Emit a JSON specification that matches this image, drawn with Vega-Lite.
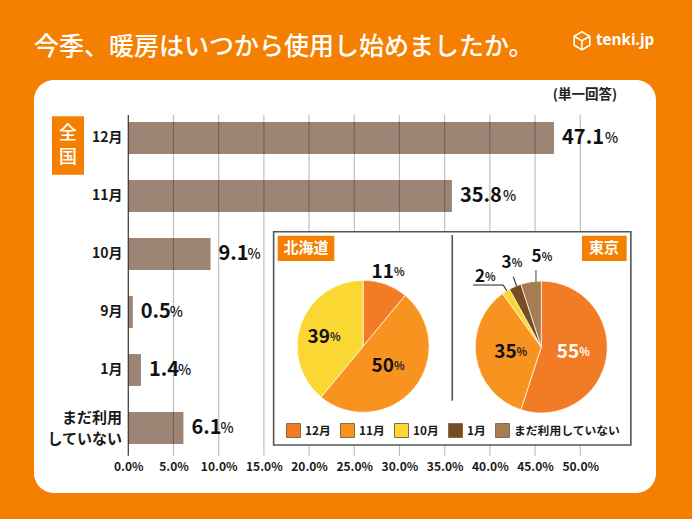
{"$schema":"https://vega.github.io/schema/vega-lite/v6.json","width":622,"height":413,"autosize":"none","padding":{"left":34,"top":80,"right":36,"bottom":26},"background":"#F47F00","view":{"fill":"#ffffff","cornerRadius":20,"stroke":null},
"title":{"text":"今季、暖房はいつから使用し始めましたか。","anchor":"start","frame":"group","font":"Noto Sans CJK JP","fontSize":25,"fontWeight":500,"color":"#ffffff","offset":20,"dy":51},
"datasets":{"answers":[{"answer":"12月","pct":47.1},{"answer":"11月","pct":35.8},{"answer":"10月","pct":9.1},{"answer":"9月","pct":0.5},{"answer":"1月","pct":1.4},{"answer":"まだ利用していない","pct":6.1}],
"pies":[{"area":"北海道","answer":"12月","share":11,"rank":1},{"area":"北海道","answer":"11月","share":50,"rank":2},{"area":"北海道","answer":"10月","share":39,"rank":3},{"area":"東京","answer":"12月","share":55,"rank":1},{"area":"東京","answer":"11月","share":35,"rank":2},{"area":"東京","answer":"10月","share":2,"rank":3},{"area":"東京","answer":"1月","share":3,"rank":4},{"area":"東京","answer":"まだ利用していない","share":5,"rank":5}],
"ticks":[{"t":5},{"t":10},{"t":15},{"t":20},{"t":25},{"t":30},{"t":35},{"t":40},{"t":45},{"t":50}],"one":[{"k":1}]},
"resolve":{"scale":{"y":"independent"},"axis":{"x":"independent"}},
"layer":[
{"data":{"name":"answers"},"mark":{"type":"bar","color":"#9C8574"},"encoding":{
"x":{"field":"pct","type":"quantitative","scale":{"domain":[-10.43,58.38],"nice":false,"zero":false},"axis":{"title":null,"values":[0,5,10,15,20,25,30,35,40,45,50],"grid":false,"domain":false,"ticks":false,"offset":-37,"labelPadding":5,"labelFont":"Noto Sans CJK JP","labelFontSize":12,"labelFontWeight":"bold","labelColor":"#1a1a1a","labelExpr":"format(datum.value,'.1f')+'%'","labelFlush":false,"labelOverlap":false}},
"y":{"field":"answer","type":"nominal","sort":null,"scale":{"domain":["12月","11月","10月","9月","1月","まだ利用していない"],"range":[29,377],"paddingInner":0.45,"paddingOuter":0.225},"axis":{"title":null,"domain":false,"ticks":false,"offset":-94,"labelPadding":6,"labelFont":"Noto Sans CJK JP","labelFontSize":14,"labelFontWeight":"bold","labelColor":"#1a1a1a","labelExpr":"datum.value=='まだ利用していない'?'':datum.value"}}}},
{"layer":[
{"data":{"name":"ticks"},"mark":{"type":"rule","color":"#000000","opacity":0.25,"strokeWidth":1.2},"encoding":{"x":{"field":"t","type":"quantitative","axis":null},"y":{"datum":91.5,"type":"quantitative","axis":null,"scale":{"domain":[0,100],"nice":false,"zero":false}},"y2":{"datum":9.03}}},
{"data":{"name":"one"},"mark":{"type":"rule","color":"#333333","strokeWidth":1.2},"encoding":{"x":{"datum":0,"type":"quantitative","axis":null},"y":{"datum":91.5,"type":"quantitative","axis":null},"y2":{"datum":9.03}}}
]},
{"data":{"name":"answers"},"encoding":{"x":{"field":"pct","type":"quantitative","axis":null},"y":{"field":"answer","type":"nominal","sort":null,"axis":null,"scale":{"domain":["12月","11月","10月","9月","1月","まだ利用していない"],"range":[29,377],"paddingInner":0.45,"paddingOuter":0.225}}},"layer":[
{"mark":{"type":"text","align":"left","baseline":"middle","dx":8,"font":"Noto Sans CJK JP","fontSize":20,"fontWeight":"bold","color":"#111111"},"encoding":{"text":{"field":"pct","type":"quantitative","format":".1f"}}},
{"transform":[{"filter":"datum.pct>=10"}],"mark":{"type":"text","align":"left","baseline":"middle","dx":51,"dy":1,"font":"Noto Sans CJK JP","fontSize":14,"fontWeight":500,"color":"#111111","text":"%"}},
{"transform":[{"filter":"datum.pct<10"}],"mark":{"type":"text","align":"left","baseline":"middle","dx":37,"dy":1,"font":"Noto Sans CJK JP","fontSize":14,"fontWeight":500,"color":"#111111","text":"%"}}
]},
{"layer":[
{"data":{"name":"one"},"mark":{"type":"rect","fill":"#F47F00"},"encoding":{"x":{"datum":-8.44,"type":"quantitative","axis":null},"x2":{"datum":-4.9},"y":{"datum":91.2,"type":"quantitative","axis":null,"scale":{"domain":[0,100],"nice":false,"zero":false}},"y2":{"datum":77.07}}},
{"data":{"values":[{"s":"まだ利用"}]},"mark":{"type":"text","align":"right","baseline":"middle","font":"Noto Sans CJK JP","fontSize":15,"fontWeight":"bold","color":"#1a1a1a"},"encoding":{"x":{"datum":-0.7,"type":"quantitative","axis":null},"y":{"datum":18.16,"type":"quantitative","axis":null},"text":{"field":"s"}}},
{"data":{"values":[{"s":"していない"}]},"mark":{"type":"text","align":"right","baseline":"middle","font":"Noto Sans CJK JP","fontSize":15,"fontWeight":"bold","color":"#1a1a1a"},"encoding":{"x":{"datum":-0.7,"type":"quantitative","axis":null},"y":{"datum":13.08,"type":"quantitative","axis":null},"text":{"field":"s"}}},
{"data":{"values":[{"s":"全"}]},"mark":{"type":"text","align":"center","baseline":"middle","font":"Noto Sans CJK JP","fontSize":18,"fontWeight":500,"color":"#ffffff"},"encoding":{"x":{"datum":-6.67,"type":"quantitative","axis":null},"y":{"datum":86.9,"type":"quantitative","axis":null},"text":{"field":"s"}}},
{"data":{"values":[{"s":"国"}]},"mark":{"type":"text","align":"center","baseline":"middle","font":"Noto Sans CJK JP","fontSize":18,"fontWeight":500,"color":"#ffffff"},"encoding":{"x":{"datum":-6.67,"type":"quantitative","axis":null},"y":{"datum":81.1,"type":"quantitative","axis":null},"text":{"field":"s"}}},
{"data":{"values":[{"s":"(単一回答)"}]},"mark":{"type":"text","align":"center","baseline":"middle","font":"Noto Sans CJK JP","fontSize":13.5,"fontWeight":"bold","color":"#222222"},"encoding":{"x":{"datum":50.52,"type":"quantitative","axis":null},"y":{"datum":96.44,"type":"quantitative","axis":null},"text":{"field":"s"}}},
{"data":{"values":[{"s":"tenki.jp"}]},"mark":{"type":"text","align":"left","baseline":"middle","font":"Open Sans","fontSize":15.2,"fontWeight":"bold","color":"#ffffff"},"encoding":{"x":{"datum":51.74,"type":"quantitative","axis":null},"y":{"datum":109.69,"type":"quantitative","axis":null},"text":{"field":"s"}}},
{"data":{"name":"one"},"mark":{"type":"point","shape":"M0,-1L0.87,-0.5L0.87,0.5L0,1L-0.87,0.5L-0.87,-0.5ZM-0.87,-0.5L0,0L0.87,-0.5M0,0L0,1","filled":false,"stroke":"#ffffff","strokeWidth":1.6,"size":324,"opacity":1},"encoding":{"x":{"datum":50.19,"type":"quantitative","axis":null},"y":{"datum":109.5,"type":"quantitative","axis":null}}},
{"data":{"name":"one"},"mark":{"type":"rect","fill":"#ffffff","stroke":"#555555","strokeWidth":1.6},"encoding":{"x":{"datum":16.08,"type":"quantitative","axis":null},"x2":{"datum":55.6},"y":{"datum":63.27,"type":"quantitative","axis":null},"y2":{"datum":11.62}}},
{"data":{"name":"one"},"mark":{"type":"rule","color":"#555555","strokeWidth":1.6},"encoding":{"x":{"datum":35.84,"type":"quantitative","axis":null},"y":{"datum":62.47,"type":"quantitative","axis":null},"y2":{"datum":22.35}}},
{"data":{"name":"one"},"mark":{"type":"rect","fill":"#F47F00"},"encoding":{"x":{"datum":16.53,"type":"quantitative","axis":null},"x2":{"datum":22.79},"y":{"datum":62.3,"type":"quantitative","axis":null},"y2":{"datum":56.17}}},
{"data":{"name":"one"},"mark":{"type":"rect","fill":"#F47F00"},"encoding":{"x":{"datum":50.19,"type":"quantitative","axis":null},"x2":{"datum":55.13},"y":{"datum":62.3,"type":"quantitative","axis":null},"y2":{"datum":56.17}}},
{"data":{"values":[{"s":"北海道"}]},"mark":{"type":"text","align":"center","baseline":"middle","font":"Noto Sans CJK JP","fontSize":15,"fontWeight":"bold","color":"#ffffff"},"encoding":{"x":{"datum":19.66,"type":"quantitative","axis":null},"y":{"datum":59.32,"type":"quantitative","axis":null},"text":{"field":"s"}}},
{"data":{"values":[{"s":"東京"}]},"mark":{"type":"text","align":"center","baseline":"middle","font":"Noto Sans CJK JP","fontSize":15,"fontWeight":"bold","color":"#ffffff"},"encoding":{"x":{"datum":52.62,"type":"quantitative","axis":null},"y":{"datum":59.32,"type":"quantitative","axis":null},"text":{"field":"s"}}},
{"data":{"name":"pies"},"transform":[{"filter":"datum.area=='北海道'"}],"mark":{"type":"arc","outerRadius":66,"stroke":"#ffffff","strokeWidth":0.7},"encoding":{"x":{"datum":25.98,"type":"quantitative","axis":null},"y":{"datum":35.52,"type":"quantitative","axis":null},"theta":{"field":"share","type":"quantitative","stack":true,"scale":{"domain":[0,100]}},"order":{"field":"rank"},"color":{"field":"answer","type":"nominal","scale":{"domain":["12月","11月","10月","1月","まだ利用していない"],"range":["#F27B25","#F7931E","#FBD734","#754C24","#A67C52"]},"legend":{"title":null,"orient":"none","legendX":252,"legendY":343,"direction":"horizontal","columns":5,"gridAlign":"none","symbolType":"square","symbolSize":196,"symbolStrokeColor":"#8a6a45","symbolStrokeWidth":1,"symbolOpacity":1,"labelFont":"Noto Sans CJK JP","labelFontSize":11.8,"labelFontWeight":"bold","labelColor":"#1a1a1a","labelOffset":4,"columnPadding":7,"labelLimit":200}}}},
{"data":{"name":"pies"},"transform":[{"filter":"datum.area=='東京'"}],"mark":{"type":"arc","outerRadius":66,"stroke":"#ffffff","strokeWidth":0.7},"encoding":{"x":{"datum":45.69,"type":"quantitative","axis":null},"y":{"datum":35.35,"type":"quantitative","axis":null},"theta":{"field":"share","type":"quantitative","stack":true,"scale":{"domain":[0,100]}},"order":{"field":"rank"},"color":{"field":"answer","type":"nominal","scale":{"domain":["12月","11月","10月","1月","まだ利用していない"],"range":["#F27B25","#F7931E","#FBD734","#754C24","#A67C52"]},"legend":{"title":null,"orient":"none","legendX":252,"legendY":343,"direction":"horizontal","columns":5,"gridAlign":"none","symbolType":"square","symbolSize":196,"symbolStrokeColor":"#8a6a45","symbolStrokeWidth":1,"symbolOpacity":1,"labelFont":"Noto Sans CJK JP","labelFontSize":11.8,"labelFontWeight":"bold","labelColor":"#1a1a1a","labelOffset":4,"columnPadding":7,"labelLimit":200}}}},
{"data":{"name":"one"},"mark":{"type":"rule","color":"#333333","strokeWidth":1.1},"encoding":{"x":{"datum":38.16,"type":"quantitative","axis":null},"x2":{"datum":41.48},"y":{"datum":50.36,"type":"quantitative","axis":null},"y2":{"datum":50.36}}},
{"data":{"name":"one"},"mark":{"type":"rule","color":"#333333","strokeWidth":1.1},"encoding":{"x":{"datum":41.48,"type":"quantitative","axis":null},"x2":{"datum":41.86},"y":{"datum":50.36,"type":"quantitative","axis":null},"y2":{"datum":48.98}}},
{"data":{"name":"one"},"mark":{"type":"rule","color":"#333333","strokeWidth":1.1},"encoding":{"x":{"datum":42.59,"type":"quantitative","axis":null},"x2":{"datum":42.96},"y":{"datum":52.37,"type":"quantitative","axis":null},"y2":{"datum":50.12}}},
{"data":{"name":"one"},"mark":{"type":"rule","color":"#555555","strokeWidth":1.1},"encoding":{"x":{"datum":45.1,"type":"quantitative","axis":null},"y":{"datum":54,"type":"quantitative","axis":null},"y2":{"datum":51.16}}},
{"data":{"values":[{"label":"11"}]},"encoding":{"x":{"datum":29.39,"type":"quantitative","axis":null},"y":{"datum":53.58,"type":"quantitative","axis":null}},"layer":[{"mark":{"type":"text","align":"right","baseline":"middle","font":"Noto Sans CJK JP","fontSize":19,"fontWeight":"bold","color":"#111111"},"encoding":{"text":{"field":"label"}}},{"mark":{"type":"text","align":"left","baseline":"middle","dy":1,"font":"Noto Sans CJK JP","fontSize":11,"fontWeight":"bold","color":"#222222","text":"%"}}]},
{"data":{"values":[{"label":"50"}]},"encoding":{"x":{"datum":29.39,"type":"quantitative","axis":null},"y":{"datum":30.82,"type":"quantitative","axis":null}},"layer":[{"mark":{"type":"text","align":"right","baseline":"middle","font":"Noto Sans CJK JP","fontSize":19,"fontWeight":"bold","color":"#111111"},"encoding":{"text":{"field":"label"}}},{"mark":{"type":"text","align":"left","baseline":"middle","dy":1,"font":"Noto Sans CJK JP","fontSize":11,"fontWeight":"bold","color":"#222222","text":"%"}}]},
{"data":{"values":[{"label":"39"}]},"encoding":{"x":{"datum":22.31,"type":"quantitative","axis":null},"y":{"datum":37.85,"type":"quantitative","axis":null}},"layer":[{"mark":{"type":"text","align":"right","baseline":"middle","font":"Noto Sans CJK JP","fontSize":19,"fontWeight":"bold","color":"#111111"},"encoding":{"text":{"field":"label"}}},{"mark":{"type":"text","align":"left","baseline":"middle","dy":1,"font":"Noto Sans CJK JP","fontSize":11,"fontWeight":"bold","color":"#222222","text":"%"}}]},
{"data":{"values":[{"label":"55"}]},"encoding":{"x":{"datum":49.89,"type":"quantitative","axis":null},"y":{"datum":34.07,"type":"quantitative","axis":null}},"layer":[{"mark":{"type":"text","align":"right","baseline":"middle","font":"Noto Sans CJK JP","fontSize":19,"fontWeight":"bold","color":"#ffffff"},"encoding":{"text":{"field":"label"}}},{"mark":{"type":"text","align":"left","baseline":"middle","dy":1,"font":"Noto Sans CJK JP","fontSize":11,"fontWeight":"bold","color":"#ffffff","text":"%"}}]},
{"data":{"values":[{"label":"35"}]},"encoding":{"x":{"datum":42.96,"type":"quantitative","axis":null},"y":{"datum":34.21,"type":"quantitative","axis":null}},"layer":[{"mark":{"type":"text","align":"right","baseline":"middle","font":"Noto Sans CJK JP","fontSize":19,"fontWeight":"bold","color":"#111111"},"encoding":{"text":{"field":"label"}}},{"mark":{"type":"text","align":"left","baseline":"middle","dy":1,"font":"Noto Sans CJK JP","fontSize":11,"fontWeight":"bold","color":"#222222","text":"%"}}]},
{"data":{"values":[{"label":"2"}]},"encoding":{"x":{"datum":39.46,"type":"quantitative","axis":null},"y":{"datum":52.37,"type":"quantitative","axis":null}},"layer":[{"mark":{"type":"text","align":"right","baseline":"middle","font":"Noto Sans CJK JP","fontSize":17,"fontWeight":"bold","color":"#111111"},"encoding":{"text":{"field":"label"}}},{"mark":{"type":"text","align":"left","baseline":"middle","dy":1,"font":"Noto Sans CJK JP","fontSize":11,"fontWeight":"bold","color":"#222222","text":"%"}}]},
{"data":{"values":[{"label":"3"}]},"encoding":{"x":{"datum":42.41,"type":"quantitative","axis":null},"y":{"datum":55.62,"type":"quantitative","axis":null}},"layer":[{"mark":{"type":"text","align":"right","baseline":"middle","font":"Noto Sans CJK JP","fontSize":17,"fontWeight":"bold","color":"#111111"},"encoding":{"text":{"field":"label"}}},{"mark":{"type":"text","align":"left","baseline":"middle","dy":1,"font":"Noto Sans CJK JP","fontSize":11,"fontWeight":"bold","color":"#222222","text":"%"}}]},
{"data":{"values":[{"label":"5"}]},"encoding":{"x":{"datum":45.73,"type":"quantitative","axis":null},"y":{"datum":57.07,"type":"quantitative","axis":null}},"layer":[{"mark":{"type":"text","align":"right","baseline":"middle","font":"Noto Sans CJK JP","fontSize":17,"fontWeight":"bold","color":"#111111"},"encoding":{"text":{"field":"label"}}},{"mark":{"type":"text","align":"left","baseline":"middle","dy":1,"font":"Noto Sans CJK JP","fontSize":11,"fontWeight":"bold","color":"#222222","text":"%"}}]}
]}
]}
